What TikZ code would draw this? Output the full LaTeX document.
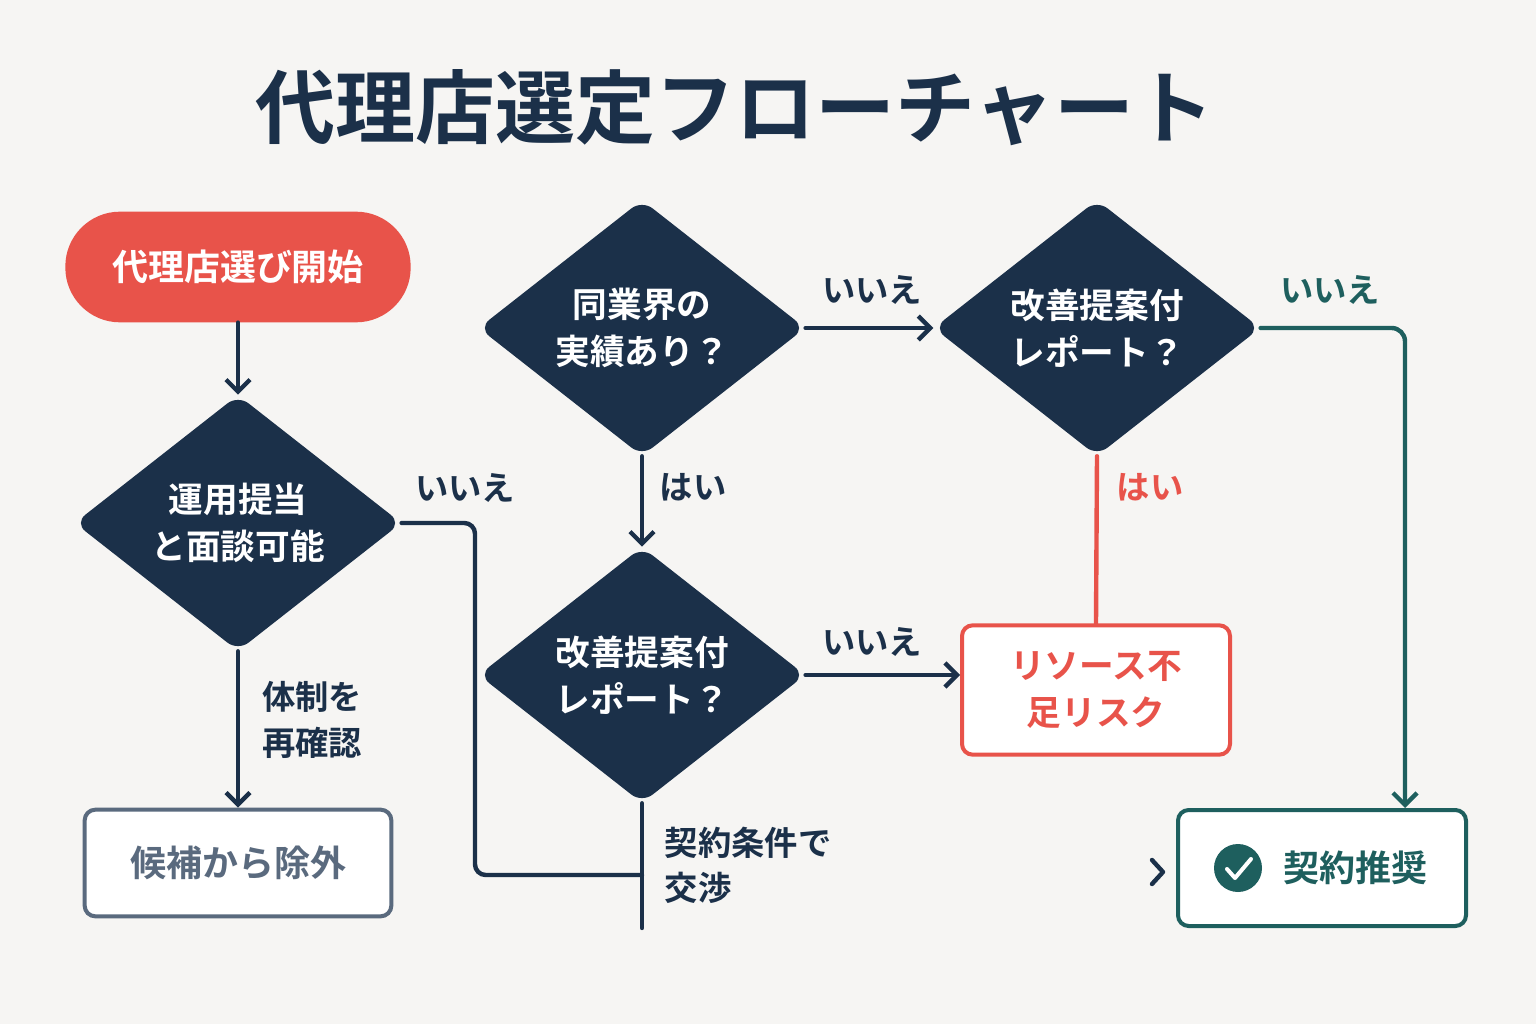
\documentclass[tikz,border=0pt]{standalone}
\usepackage{fontspec}
\setmainfont{Noto Sans CJK JP}[BoldFont={Noto Sans CJK JP Bold}]
\usetikzlibrary{shapes.geometric,arrows.meta}
\definecolor{navy}{HTML}{1B3049}
\definecolor{rred}{HTML}{E8534A}
\definecolor{teal}{HTML}{1E5F5E}
\definecolor{bg}{HTML}{F6F5F3}
\definecolor{gry}{HTML}{5A6A7E}
\begin{document}
\begin{tikzpicture}[x=0.75pt,y=-0.75pt,
  dia/.style={diamond,fill=navy,rounded corners=10pt,inner sep=0pt,minimum width=245pt,minimum height=192pt,label={[text=white,font=\fontsize{26}{35}\selectfont\bfseries,align=center]center:#1}},
  ln/.style={line width=3.3pt,navy,line cap=round},
  arr/.style={ln,-{Straight Barb[length=9pt,width=18pt,line width=3.3pt]}},
  lab/.style={font=\fontsize{25}{34}\selectfont\bfseries,text=navy,align=left},
  box/.style={rounded corners=8pt,line width=3pt,fill=white,minimum width=#1,minimum height=80pt,inner sep=0pt}]
\fill[bg] (0,0) rectangle (1536,1024);
\useasboundingbox (0,0) rectangle (1536,1024);
\node[font=\fontsize{60}{70}\selectfont\bfseries,text=navy] (title) at (735,108) {代理店選定フローチャート};
\node[fill=rred,rounded corners=41pt,minimum width=259pt,minimum height=83pt,text=white,font=\fontsize{27}{32}\selectfont\bfseries] (start) at (238,267) {代理店選び開始};
\node[dia={運用提当\\と面談可能}] (d1) at (238,523) {};
\node[dia={同業界の\\実績あり？}] (d2) at (642,328) {};
\node[dia={改善提案付\\レポート？}] (d3) at (642,675) {};
\node[dia={改善提案付\\レポート？}] (d4) at (1097,328) {};
\node[box=230pt,draw=gry,text=gry,font=\fontsize{27}{32}\selectfont\bfseries] (ex) at (238,863) {候補から除外};
\node[box=201pt,minimum height=97pt,draw=rred,text=rred,font=\fontsize{26}{35}\selectfont\bfseries,align=center] (risk) at (1096,690) {リソース不\\足リスク};
\node[box=216pt,minimum height=87pt,draw=teal] (rec) at (1322,868) {};
\node[circle,fill=teal,minimum size=36pt,inner sep=0pt] (chk) at (1238,868) {};
\draw[white,line width=3pt,line cap=round,line join=round] (1227,869) -- (1235,878) -- (1251,859);
\node[font=\fontsize{27}{32}\selectfont\bfseries,text=teal] (rect) at (1355,868) {契約推奨};
\coordinate (j) at (642,875);
\coordinate (bot) at (642,928);
\draw[arr] (start.south) -- (d1.north);
\draw[arr] (d1.south) -- (ex.north);
\draw[ln,rounded corners=8pt] (d1.east) -- (475,523) -- (475,875) -- (j);
\draw[arr] (d2.east) -- (d4.west);
\draw[arr] (d2.south) -- (d3.north);
\draw[arr] (d3.east) -- (d3.east -| risk.west);
\draw[ln] (d3.south) -- (bot);
\draw[ln,rred] (d4.south) -- (risk.north);
\draw[arr,teal,rounded corners=10pt] (d4.east) -- (1405,328) -- (rec.north -| 1405,0);
\draw[ln,line join=round] (1152,860) -- (1163,872) -- (1152,884);
\node[lab] at (465,488) {いいえ};
\node[lab] at (312,720) {体制を\\再確認};
\node[lab] at (872,290) {いいえ};
\node[lab] at (693,487) {はい};
\node[lab] at (872,642) {いいえ};
\node[lab,anchor=west] at (660,865) {契約条件で\\交渉};
\node[lab,text=rred] at (1150,487) {はい};
\node[lab,text=teal] at (1330,290) {いいえ};
\end{tikzpicture}
\end{document}
